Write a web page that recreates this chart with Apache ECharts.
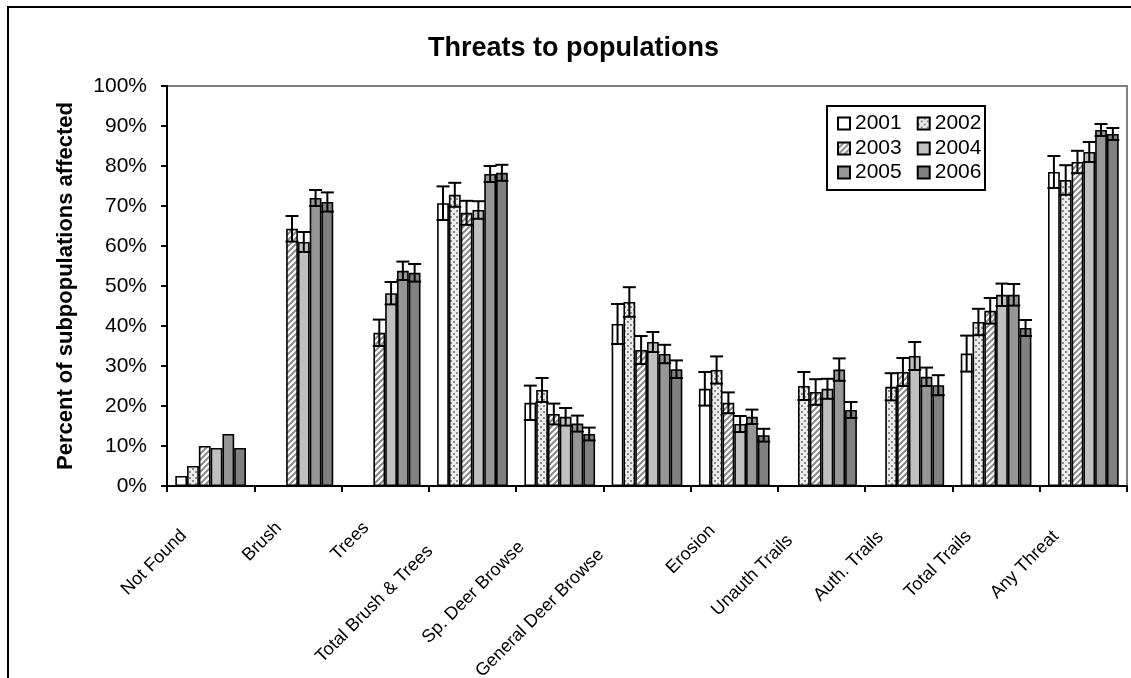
<!DOCTYPE html>
<html><head><meta charset="utf-8">
<script src="https://cdn.jsdelivr.net/npm/echarts@6/dist/echarts.min.js"></script>
<style>html,body{margin:0;padding:0;background:#fff}#c{width:1131px;height:678px}</style>
</head><body><div id="c"></div>
<script>
const categories = ['Not Found','Brush','Trees','Total Brush & Trees','Sp. Deer Browse','General Deer Browse','Erosion','Unauth Trails','Auth. Trails','Total Trails','Any Threat'];
const years = ['2001','2002','2003','2004','2005','2006'];
const yTicks = [0,10,20,30,40,50,60,70,80,90,100];
const v2001 = [2.5, null, null, 70.7, 20.8, 40.5, 24.3, null, null, 33.1, 78.5];
const e2001 = [null, null, null, 4.2, 4.3, 5.0, 4.2, null, null, 4.5, 4.0];
const v2002 = [5.0, null, null, 72.8, 24.0, 46.0, 29.0, 25.0, 24.8, 41.0, 76.5];
const e2002 = [null, null, null, 3.0, 3.0, 3.7, 3.4, 3.5, 3.4, 3.3, 3.7];
const v2003 = [10.0, 64.3, 38.3, 68.3, 18.0, 34.0, 20.8, 23.5, 28.5, 43.8, 81.0];
const e2003 = [null, 3.2, 3.3, 3.0, 2.6, 3.5, 2.6, 3.2, 3.5, 3.2, 2.8];
const v2004 = [9.5, 61.0, 48.2, 69.0, 17.3, 36.0, 15.5, 24.3, 32.5, 47.8, 83.5];
const e2004 = [null, 2.5, 2.8, 2.2, 2.2, 2.5, 2.0, 2.5, 3.5, 2.8, 2.5];
const v2005 = [13.0, 72.0, 53.8, 78.0, 15.6, 33.0, 17.3, 29.1, 27.3, 47.8, 89.0];
const e2005 = [null, 2.0, 2.3, 2.0, 2.0, 2.3, 1.8, 2.8, 2.3, 2.7, 1.5];
const v2006 = [9.5, 71.0, 53.3, 78.3, 13.0, 29.2, 12.7, 19.0, 25.2, 39.5, 88.0];
const e2006 = [null, 2.4, 2.2, 2.0, 1.6, 2.2, 1.6, 2.0, 2.5, 2.0, 1.5];

const values = [v2001, v2002, v2003, v2004, v2005, v2006];
const errors = [e2001, e2002, e2003, e2004, e2005, e2006];

// fill patterns
function dotPattern() {
  const c = document.createElement('canvas'); c.width = 6; c.height = 6;
  const g = c.getContext('2d');
  g.fillStyle = '#ececec'; g.fillRect(0,0,6,6);
  g.fillStyle = '#8c8c8c'; g.fillRect(0,0,2,2); g.fillRect(3,3,2,2);
  return c;
}
function hatchPattern() {
  const c = document.createElement('canvas'); c.width = 6; c.height = 6;
  const g = c.getContext('2d');
  g.fillStyle = '#ffffff'; g.fillRect(0,0,6,6);
  g.strokeStyle = '#8a8a8a'; g.lineWidth = 2;
  g.beginPath();
  g.moveTo(-1,7); g.lineTo(7,-1);
  g.moveTo(-4,4); g.lineTo(4,-4);
  g.moveTo(2,10); g.lineTo(10,2);
  g.stroke();
  return c;
}
const fills = ['#ffffff', {image: dotPattern(), repeat: 'repeat'}, {image: hatchPattern(), repeat: 'repeat'}, '#c0c0c0', '#969696', '#808080'];

const BAR_FRAC = 0.135;
const FONT = '"Liberation Sans", Arial, Helvetica, sans-serif';
const LABEL_SIZE = 18;

// label shift along text direction (Excel-like placement of rotated labels)
const mctx = document.createElement('canvas').getContext('2d');
mctx.font = LABEL_SIZE + 'px ' + FONT;
const rich = {};
categories.forEach((c, i) => {
  rich['c' + i] = {fontSize: LABEL_SIZE, fontFamily: FONT, color: '#000',
    padding: [0, Math.round(0.3 * mctx.measureText(c).width + 13), 0, 0]};
});

const barSeries = years.map((y, s) => ({
  name: y, type: 'bar', data: values[s],
  barWidth: (BAR_FRAC * 100) + '%', barGap: '0%',
  itemStyle: {color: fills[s], borderColor: '#000', borderWidth: 1.6},
  emphasis: {disabled: true}
}));

const errData = [];
values.forEach((arr, s) => arr.forEach((v, i) => {
  if (v != null && errors[s][i] != null) errData.push([i, s, v, errors[s][i]]);
}));

const errSeries = {
  name: 'err', type: 'custom', z: 10, silent: true,
  encode: {x: 0, y: 2},
  data: errData,
  renderItem(params, api) {
    const i = api.value(0), s = api.value(1), v = api.value(2), e = api.value(3);
    const bw = api.size([1, 0])[0];
    const barW = bw * BAR_FRAC;
    const x = api.coord([i, v])[0] + (s - 2.5) * barW;
    const yt = api.coord([i, v + e])[1];
    const yb = api.coord([i, v - e])[1];
    const hw = 6.5;
    const st = {stroke: '#000', lineWidth: 2};
    return {type: 'group', children: [
      {type: 'line', shape: {x1: x, y1: yt, x2: x, y2: yb}, style: st},
      {type: 'line', shape: {x1: x - hw, y1: yt, x2: x + hw, y2: yt}, style: st},
      {type: 'line', shape: {x1: x - hw, y1: yb, x2: x + hw, y2: yb}, style: st}
    ]};
  }
};

function legendRow(items, top) {
  return {
    data: items, left: 837, top: top, orient: 'horizontal', padding: 0,
    itemWidth: 12, itemHeight: 12, itemGap: 15, icon: 'rect',
    selectedMode: false,
    textStyle: {fontSize: 21, fontFamily: FONT, color: '#000'}
  };
}

const chart = echarts.init(document.getElementById('c'), null, {renderer: 'canvas'});
chart.setOption({
  animation: false,
  backgroundColor: '#ffffff',
  textStyle: {fontFamily: FONT},
  title: {
    text: 'Threats to populations', left: 423, top: 30,
    textStyle: {fontSize: 27, fontWeight: 'bold', color: '#000', fontFamily: FONT}
  },
  legend: [legendRow(['2001','2002'], 113), legendRow(['2003','2004'], 138), legendRow(['2005','2006'], 162)],
  grid: {left: 167, right: 4, top: 86, bottom: 192, show: true, borderColor: '#808080', borderWidth: 2,
         backgroundColor: 'transparent', containLabel: false, outerBoundsMode: 'none'},
  xAxis: {
    type: 'category', data: categories, boundaryGap: true,
    axisLine: {lineStyle: {color: '#000', width: 2}},
    axisTick: {show: true, interval: 0, length: 6, lineStyle: {color: '#000', width: 2}},
    axisLabel: {
      interval: 0, rotate: 45, margin: 20, color: '#000', fontSize: LABEL_SIZE, fontFamily: FONT,
      formatter: (val, idx) => '{c' + idx + '|' + val + '}',
      rich: rich
    }
  },
  yAxis: {
    type: 'value', min: yTicks[0], max: yTicks[yTicks.length - 1], interval: yTicks[1] - yTicks[0],
    name: 'Percent of subpopulations affected', nameLocation: 'middle', nameRotate: 90, nameGap: 90,
    nameTextStyle: {fontSize: 22, fontWeight: 'bold', color: '#000', fontFamily: FONT},
    axisLine: {show: true, lineStyle: {color: '#000', width: 2}},
    axisTick: {show: true, length: 6, lineStyle: {color: '#000', width: 2}},
    splitLine: {show: false},
    axisLabel: {formatter: '{value}%', fontSize: 21, color: '#000', margin: 20, fontFamily: FONT}
  },
  graphic: [
    {type: 'rect', shape: {x: 8, y: 7, width: 1400, height: 900}, style: {fill: 'none', stroke: '#000', lineWidth: 2}, silent: true, z: 100},
    {type: 'rect', shape: {x: 827, y: 106, width: 158, height: 84}, style: {fill: '#fff', stroke: '#000', lineWidth: 2}, silent: true, z: -1}
  ],
  series: [...barSeries, errSeries]
});
</script></body></html>
